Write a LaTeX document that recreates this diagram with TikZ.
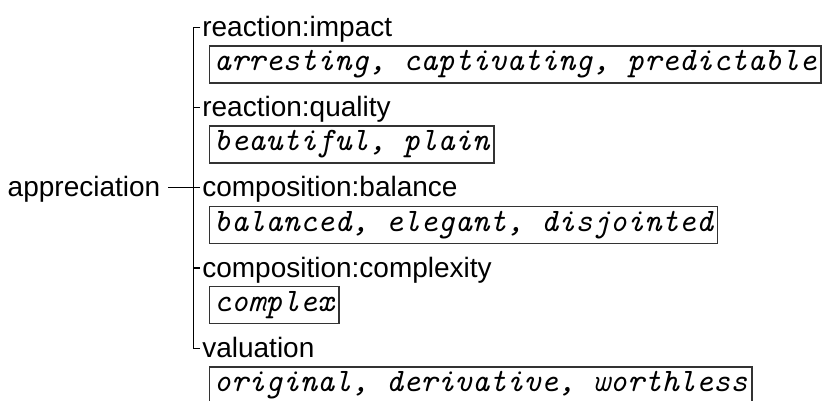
\documentclass[tikz,border=0pt]{standalone}
\usepackage{fontspec}
\setmainfont{Liberation Sans}
\usepackage{tikz}
\usetikzlibrary{positioning}
\definecolor{boxgray}{HTML}{333333}

\begin{document}
\begin{tikzpicture}[x=1pt,y=-1pt,
    tree/.style={line width=1.3pt,black},
    cat/.style={font=\fontsize{28}{30}\selectfont, text height=19.5pt, text depth=1.5pt,
        inner xsep=2pt, inner ysep=0pt, outer sep=0pt},
    wordbox/.style={draw=boxgray, line width=1.5pt, font=\fontsize{32.8}{36}\ttfamily\itshape,
        minimum height=37pt, inner xsep=4.5pt, inner ysep=0pt, outer sep=0pt}]
    \useasboundingbox (0,0) rectangle (822,401);

    \coordinate (t1) at (193.3,27.3);
    \coordinate (t2) at (193.3,107.6);
    \coordinate (t3) at (193.3,187.8);
    \coordinate (t4) at (193.3,268.1);
    \coordinate (t5) at (193.3,348.3);

    \node [cat, inner xsep=8pt, left=25pt of t3] (appr) {appreciation};

    \node [cat, right=7pt of t1] (l1) {reaction:impact};
    \node [wordbox, below right=8pt and 9pt of l1.south west] (b1) {arresting, captivating, predictable};
    \node [cat, right=7pt of t2] (l2) {reaction:quality};
    \node [wordbox, below right=8pt and 9pt of l2.south west] (b2) {beautiful, plain};
    \node [cat, right=7pt of t3] (l3) {composition:balance};
    \node [wordbox, below right=8pt and 9pt of l3.south west] (b3) {balanced, elegant, disjointed};
    \node [cat, right=7pt of t4] (l4) {composition:complexity};
    \node [wordbox, below right=8pt and 9pt of l4.south west] (b4) {complex};
    \node [cat, right=7pt of t5] (l5) {valuation};
    \node [wordbox, below right=8pt and 9pt of l5.south west] (b5) {original, derivative, worthless};

    % bracket
    \draw [tree] (l1.west) -- (t1) -- (t5) -- (l5.west);
    \draw [tree] (t2) -- (l2.west);
    \draw [tree] (t4) -- (l4.west);
    \draw [tree] (appr.east) -- (l3.west);
\end{tikzpicture}
\end{document}
